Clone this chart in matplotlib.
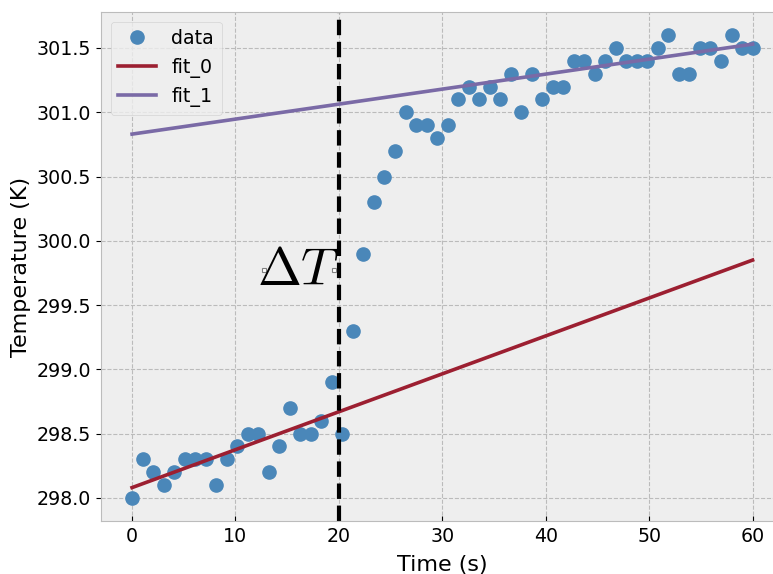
import numpy as np
import matplotlib
matplotlib.use("Agg")
import matplotlib.pyplot as plt

# dane pomiarowe: temperatura w czasie
time_s = np.linspace(0, 60, 60)
temp_k = [298.0, 298.3, 298.2, 298.1, 298.2, 298.3, 298.3, 298.3, 298.1, 298.3,
          298.4, 298.5, 298.5, 298.2, 298.4, 298.7, 298.5, 298.5, 298.6, 298.9,
          298.5, 299.3, 299.9, 300.3, 300.5, 300.7, 301.0, 300.9, 300.9, 300.8,
          300.9, 301.1, 301.2, 301.1, 301.2, 301.1, 301.3, 301.0, 301.3, 301.1,
          301.2, 301.2, 301.4, 301.4, 301.3, 301.4, 301.5, 301.4, 301.4, 301.4,
          301.5, 301.6, 301.3, 301.3, 301.5, 301.5, 301.4, 301.6, 301.5, 301.5]

# dopasowane proste (wartosci na koncach przedzialu)
fit_x = [0, 60]
fit_0 = [298.08, 299.85]
fit_1 = [300.83, 301.53]
t_split = 20

plt.style.use('bmh')
plt.rcParams['mathtext.fontset'] = 'cm'
plt.rcParams['grid.linestyle'] = '--'
plt.rcParams['grid.color'] = '#bbbbbb'
plt.rcParams['grid.linewidth'] = 0.8

fig = plt.figure(figsize=(7.73, 5.74), dpi=100)
ax = fig.add_axes([0.1307, 0.0923, 0.883, 0.8868])

ax.plot(time_s, temp_k, 'o', ms=9.5, color='#4a87b9', label='data')
ax.plot(fit_x, fit_0, lw=2.6, color='#9c1f31', label='fit_0')
ax.plot(fit_x, fit_1, lw=2.6, color='#7a6aa6', label='fit_1')
ax.axvline(t_split, color='black', ls='--', lw=3)

# opis skoku temperatury
ax.text(16.07, 299.77, r'$\Delta T$', fontsize=38, ha='center', va='center')
ax.plot([12.8, 19.5], [299.77, 299.77], 's', ms=3, mfc='white', mec='gray', mew=0.8)

ax.set_xlim(-3, 63)
ax.set_ylim(297.82, 301.78)
ax.set_xticks([0, 10, 20, 30, 40, 50, 60])
ax.set_yticks(np.arange(298.0, 301.51, 0.5))
ax.tick_params(labelsize=13.7)
ax.tick_params(axis='x', direction='in', pad=4.5)
ax.tick_params(axis='y', direction='out')
ax.set_xlabel('Time (s)', fontsize=16, labelpad=6)
ax.set_ylabel('Temperature (K)', fontsize=16)
ax.legend(loc='upper left', fontsize=13.7)

fig.savefig('out.png', dpi=100)
